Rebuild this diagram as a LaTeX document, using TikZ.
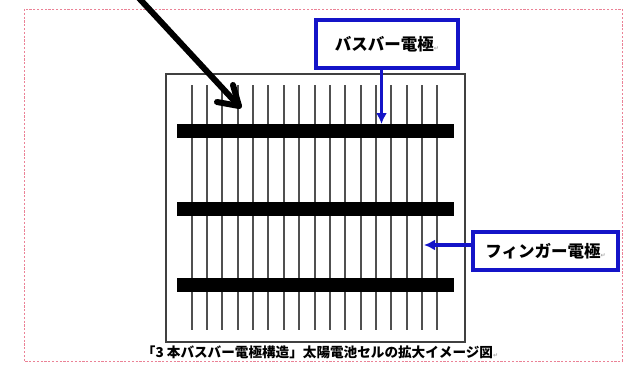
\documentclass[tikz,border=0pt]{standalone}
\usepackage{fontspec}
\newfontfamily\jp{Noto Sans CJK JP}
\newfontfamily\dv{DejaVu Sans}
\usetikzlibrary{arrows.meta}
\definecolor{lblblue}{RGB}{20,20,200}
\definecolor{pinkdash}{RGB}{235,130,150}
\definecolor{fingergray}{RGB}{80,80,80}
\newcommand{\pmark}{{\dv\fontsize{6}{6}\selectfont\color{black!35}↵}}
\tikzset{
  pagebox/.style={draw=pinkdash, line width=0.8pt, dash pattern=on 2.2pt off 1.6pt},
  cellbox/.style={draw=black!75, line width=1.4pt, minimum width=299pt, minimum height=268pt, inner sep=0pt},
  finger/.style={draw=fingergray, line width=2pt},
  busbar/.style={fill=black, inner sep=0pt, minimum width=277pt, minimum height=14pt},
  label/.style={draw=lblblue, line width=3.4pt, fill=white, inner sep=0pt, font=\jp\bfseries\fontsize{16.5}{16.5}\selectfont},
  bluearrow/.style={draw=lblblue, line width=3.2pt, -{Latex[length=11pt,width=11pt]}},
  blackarrow/.style={draw=black, line width=6pt, line cap=round, line join=round},
  caption/.style={font=\jp\bfseries\fontsize{13.6}{13.6}\selectfont, inner sep=0pt}
}
\begin{document}
\begin{tikzpicture}[x=1pt,y=-1pt]
\useasboundingbox (0,0) rectangle (631,372);
\fill[white] (0,0) rectangle (631,372);
\draw[pagebox] (24,9) rectangle (622,361);
% cell
\node[cellbox] (cell) at (315.5,208) {};
% fingers
\foreach \i in {0,...,16} {
  \draw[finger] (191.7+15.35*\i,85) -- ++(0,245);
}
% busbars
\node[busbar] (bar1) at (315.5,130.5) {};
\node[busbar] (bar2) at (315.5,209) {};
\node[busbar] (bar3) at (315.5,284.5) {};
% labels
\node[label, minimum width=142pt, minimum height=48pt] (bblabel) at (387,44) {バスバー電極\pmark};
\node[label, minimum width=145pt, minimum height=38pt] (fglabel) at (545.5,251) {フィンガー電極\pmark};
\coordinate (bbtip) at (381.5,124);
\coordinate (fgtip) at (424,245);
\draw[bluearrow] (bblabel.south -| bbtip) -- (bbtip);
\draw[bluearrow] (fglabel.west |- fgtip) -- (fgtip);
% black arrow
\coordinate (bastart) at (137,-4);
\coordinate (batip) at (239,106);
\coordinate (barb1) at (233,85);
\coordinate (barb2) at (217,102);
\draw[blackarrow] (bastart) -- (batip);
\draw[blackarrow] (barb1) -- (batip) -- (barb2);
% caption
\node[caption] (cap) at (320,352) {「3 本バスバー電極構造」太陽電池セルの拡大イメージ図\pmark};
\end{tikzpicture}
\end{document}
